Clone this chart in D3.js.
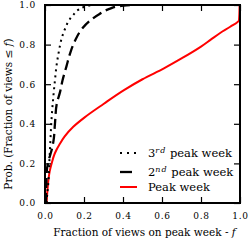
<!DOCTYPE html>
<html>
<head>
<meta charset="utf-8">
<script src="https://cdn.jsdelivr.net/npm/d3@7"></script>
<style>
body { margin: 0; background: #fff; }
text { font-family: "DejaVu Serif", serif; fill: #000; }
</style>
</head>
<body>
<script>
// CDF curves: [f, prob]
var peakWeek = [[0.008,0],[0.013,0.07],[0.018,0.12],[0.024,0.16],[0.034,0.2],[0.05,0.25],[0.077,0.30],[0.1,0.335],[0.145,0.385],[0.2,0.43],[0.3,0.5],[0.405,0.57],[0.5,0.625],[0.61,0.68],[0.7,0.73],[0.8,0.79],[0.85,0.825],[0.9,0.86],[0.95,0.89],[0.995,0.924],[0.998,1.0]];
var secondWeek = [[0.005,0],[0.007,0.1],[0.01,0.17],[0.02,0.22],[0.032,0.26],[0.043,0.31],[0.051,0.4],[0.06,0.5],[0.077,0.56],[0.09,0.62],[0.11,0.69],[0.13,0.76],[0.154,0.82],[0.19,0.88],[0.23,0.92],[0.28,0.955],[0.33,0.98],[0.385,0.995],[0.45,1.0]];
var thirdWeek = [[0.008,0],[0.012,0.05],[0.017,0.1],[0.022,0.2],[0.027,0.3],[0.034,0.43],[0.043,0.54],[0.051,0.62],[0.06,0.7],[0.072,0.77],[0.085,0.83],[0.103,0.88],[0.125,0.925],[0.145,0.95],[0.17,0.975],[0.2,0.99],[0.24,1.0]];
var xTicks = [0, 0.2, 0.4, 0.6, 0.8, 1.0];
var yTicks = [0, 0.2, 0.4, 0.6, 0.8, 1.0];

var width = 248, height = 240;
var m = {left: 45, right: 8, top: 5, bottom: 37};
var w = width - m.left - m.right, h = height - m.top - m.bottom;

var svg = d3.select("body").append("svg")
	.attr("width", width)
	.attr("height", height);

var g = svg.append("g").attr("transform", "translate(" + m.left + "," + m.top + ")");

var x = d3.scaleLinear().domain([0, 1]).range([0, w]);
var y = d3.scaleLinear().domain([0, 1]).range([h, 0]);

g.append("clipPath").attr("id", "clip")
	.append("rect").attr("width", w).attr("height", h);

var line = d3.line()
	.curve(d3.curveMonotoneY)
	.x(function(d) { return x(d[0]); })
	.y(function(d) { return y(d[1]); });

var curves = g.append("g").attr("clip-path", "url(#clip)");
curves.append("path").datum(peakWeek)
	.attr("d", line).attr("fill", "none").attr("stroke", "#ff0000").attr("stroke-width", 2);
curves.append("path").datum(secondWeek)
	.attr("d", line).attr("fill", "none").attr("stroke", "#000").attr("stroke-width", 2.3)
	.attr("stroke-dasharray", "10,5");
curves.append("path").datum(thirdWeek)
	.attr("d", line).attr("fill", "none").attr("stroke", "#000").attr("stroke-width", 2)
	.attr("stroke-dasharray", "2,4");

// axes with inward ticks on all sides
function styleAxis(sel) {
	sel.select(".domain").remove();
	sel.selectAll(".tick line").attr("stroke", "#000").attr("stroke-width", 1.2);
	sel.selectAll(".tick text").attr("font-size", 9).attr("letter-spacing", 0.8)
		.attr("font-family", "DejaVu Serif").attr("fill", "#333");
}
var fmt = d3.format(".1f");
g.append("g").attr("transform", "translate(0," + h + ")")
	.call(d3.axisBottom(x).tickValues(xTicks).tickFormat(fmt).tickSizeInner(-6).tickPadding(10))
	.call(styleAxis);
g.append("g")
	.call(d3.axisLeft(y).tickValues(yTicks).tickFormat(fmt).tickSizeInner(-6).tickPadding(9))
	.call(styleAxis);
g.append("g")
	.call(d3.axisTop(x).tickValues(xTicks).tickFormat("").tickSizeInner(-6))
	.call(styleAxis);
g.append("g").attr("transform", "translate(" + w + ",0)")
	.call(d3.axisRight(y).tickValues(yTicks).tickFormat("").tickSizeInner(-6))
	.call(styleAxis);

g.append("rect").attr("width", w).attr("height", h)
	.attr("fill", "none").attr("stroke", "#000").attr("stroke-width", 2);

// axis titles
svg.append("text")
	.attr("x", m.left + w / 2 + 2).attr("y", 236)
	.attr("text-anchor", "middle").attr("font-size", 10.5)
	.attr("font-family", "Liberation Serif")
	.html('Fraction of views on peak week - <tspan font-style="italic">f</tspan>');
svg.append("text")
	.attr("transform", "translate(12,114) rotate(-90)")
	.attr("text-anchor", "middle").attr("font-size", 10.5)
	.attr("font-family", "Liberation Serif")
	.html('Prob. (Fraction of views \u2264 <tspan font-style="italic">f</tspan>)');

// legend
var legend = [
	{sup: "rd", num: "3", dash: "2,5", x2: 138, color: "#000", sw: 2},
	{sup: "nd", num: "2", dash: null, x2: 132, color: "#000", sw: 2.3},
	{sup: null, num: null, dash: null, x2: 137, color: "#ff0000", sw: 2}
];
var ly = [153, 172, 187];
legend.forEach(function(d, i) {
	svg.append("line").attr("x1", 120).attr("x2", d.x2).attr("y1", ly[i]).attr("y2", ly[i])
		.attr("stroke", d.color).attr("stroke-width", d.sw)
		.attr("stroke-dasharray", d.dash);
	var t = svg.append("text").attr("x", 148).attr("y", ly[i] + 4)
		.attr("font-size", 11.5).attr("font-family", "Liberation Serif");
	if (d.num) {
		t.append("tspan").text(d.num);
		t.append("tspan").attr("font-style", "italic").attr("font-size", 8).attr("dy", -4.5)
			.attr("letter-spacing", 1).text(d.sup);
		t.append("tspan").attr("dy", 4.5).text(" peak week");
	} else {
		t.text("Peak week");
	}
});
</script>
</body>
</html>
